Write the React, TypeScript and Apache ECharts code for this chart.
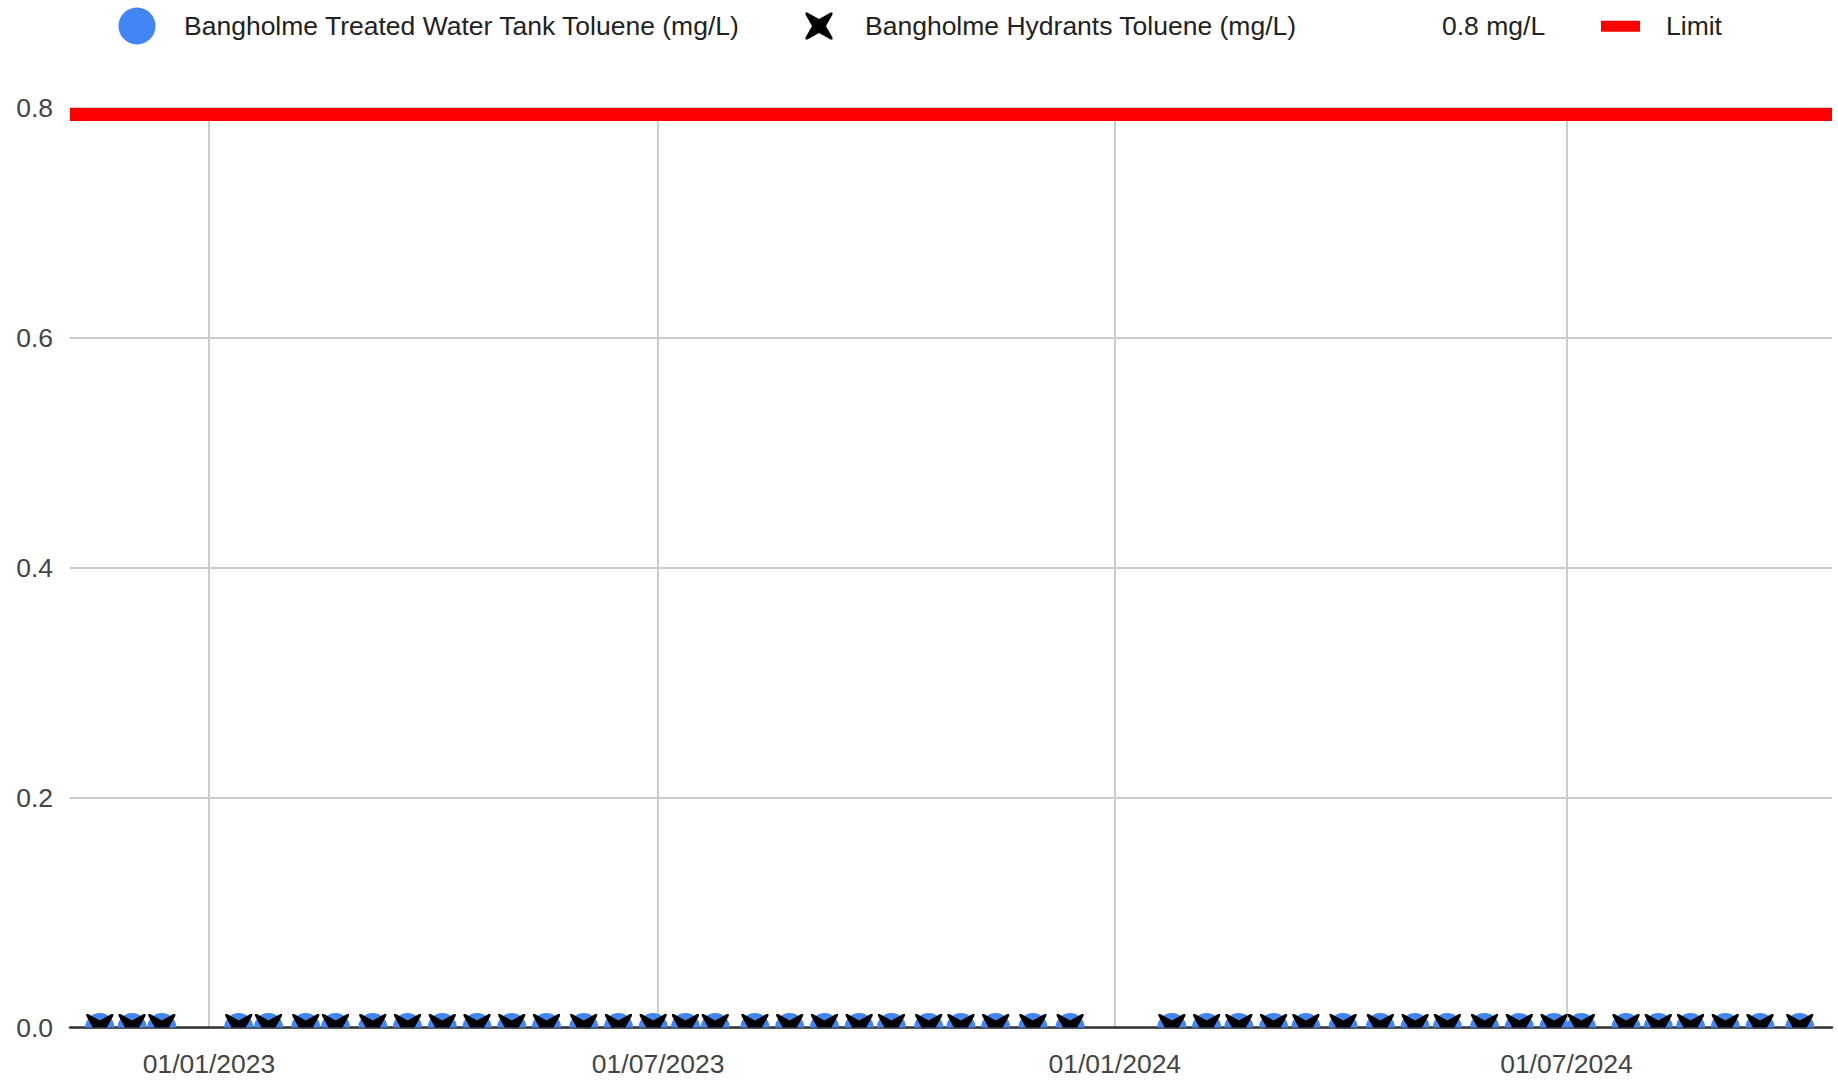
import React, { useEffect, useRef } from "react";
import * as echarts from "echarts";

// ---- Data ----
const sampleDates = [
  "2022-11-18", "2022-12-01", "2022-12-13",
  "2023-01-13", "2023-01-25", "2023-02-09", "2023-02-21", "2023-03-08", "2023-03-22",
  "2023-04-05", "2023-04-19", "2023-05-03", "2023-05-17", "2023-06-01", "2023-06-15",
  "2023-06-29", "2023-07-12", "2023-07-24", "2023-08-09", "2023-08-23", "2023-09-06",
  "2023-09-20", "2023-10-03", "2023-10-18", "2023-10-31", "2023-11-14", "2023-11-29",
  "2023-12-14",
  "2024-01-24", "2024-02-07", "2024-02-20", "2024-03-05", "2024-03-18", "2024-04-02",
  "2024-04-17", "2024-05-01", "2024-05-14", "2024-05-29", "2024-06-12", "2024-06-26",
  "2024-07-07", "2024-07-25", "2024-08-07", "2024-08-20", "2024-09-03", "2024-09-17",
  "2024-10-03",
];
const treatedValues = [
  0, 0, 0,
  0, 0, 0, 0, 0, 0,
  0, 0, 0, 0, 0, 0,
  0, 0, 0, 0, 0, 0,
  0, 0, 0, 0, 0, 0,
  0,
  0, 0, 0, 0, 0, 0,
  0, 0, 0, 0, 0, 0,
  0, 0, 0, 0, 0, 0,
  0,
];
const hydrantValues = [
  0, 0, 0,
  0, 0, 0, 0, 0, 0,
  0, 0, 0, 0, 0, 0,
  0, 0, 0, 0, 0, 0,
  0, 0, 0, 0, 0, 0,
  0,
  0, 0, 0, 0, 0, 0,
  0, 0, 0, 0, 0, 0,
  0, 0, 0, 0, 0, 0,
  0,
];
const limitValue = 0.8;
const axisStart = "2022-11-06";
const axisEnd = "2024-10-16";
const xTickDates = ["2023-01-01", "2023-07-01", "2024-01-01", "2024-07-01"];
const yMin = 0;
const yMax = 0.8;
const yStep = 0.2;

const nameTreated = "Bangholme Treated Water Tank Toluene (mg/L)";
const nameHydrants = "Bangholme Hydrants Toluene (mg/L)";
const nameLimitValue = "0.8 mg/L";
const nameLimit = "Limit";

// ---- helpers ----
function parseDay(s: string): number {
  const [y, m, d] = s.split("-").map(Number);
  return new Date(y, m - 1, d).getTime();
}
function pad(n: number): string {
  return n < 10 ? "0" + n : String(n);
}
function fmtDate(v: number): string {
  const d = new Date(v);
  return pad(d.getDate()) + "/" + pad(d.getMonth() + 1) + "/" + d.getFullYear();
}

const FONT = "'Liberation Sans', Arial, sans-serif";
const FONT_SIZE = 26.5;
const BLUE = "#4285F4";
const RED = "#FF0000";

const HALF_DISC = "path://M0,50A50,50,0,0,1,100,50Z";
const HALF_X = "path://M0,0L7,0L50,24L93,0L100,0L100,7L76,50L24,50L0,7Z";
const FULL_X =
  "path://M0,0L7,0L50,24L93,0L100,0L100,7L76,50L100,93L100,100L93,100L50,76L7,100L0,100L0,93L24,50L0,7Z";
const LIMIT_RECT = "path://M0,0H39V11H0Z";

export default function App() {
  const ref = useRef<HTMLDivElement>(null);

  useEffect(() => {
    if (!ref.current) return;
    const chart = echarts.init(ref.current, undefined, { renderer: "svg" });

    const startTs = parseDay(axisStart);
    const endTs = parseDay(axisEnd);
    const treatedData = sampleDates.map((d, i) => [parseDay(d), treatedValues[i]]);
    const hydrantData = sampleDates.map((d, i) => [parseDay(d), hydrantValues[i]]);
    const tickTs = xTickDates.map(parseDay);

    const legendText = { fontFamily: FONT, fontSize: FONT_SIZE, color: "#222222" };

    const option: any = {
      animation: false,
      backgroundColor: "#ffffff",
      textStyle: { fontFamily: FONT },
      grid: { left: 70, right: 6, top: 108, bottom: 59.5, containLabel: false },
      legend: [
        {
          left: 118.5, top: 7.5, padding: 0, itemWidth: 84, itemHeight: 37, selectedMode: false,
          textStyle: legendText,
          data: [{ name: nameTreated, icon: "circle", itemStyle: { color: BLUE } }],
        },
        {
          left: 805.5, top: 12.5, padding: 0, itemWidth: 82, itemHeight: 27, selectedMode: false,
          textStyle: legendText,
          data: [{ name: nameHydrants, icon: FULL_X, itemStyle: { color: "#000000" } }],
        },
        {
          left: 1412, top: 12.75, padding: 0, itemWidth: 25, itemHeight: 11, selectedMode: false,
          textStyle: legendText,
          data: [{ name: nameLimitValue, icon: "rect", itemStyle: { color: "rgba(0,0,0,0)", opacity: 0 } }],
        },
        {
          left: 1601, top: 12.75, padding: 0, itemWidth: 81, itemHeight: 11, selectedMode: false,
          textStyle: legendText,
          data: [{ name: nameLimit, icon: LIMIT_RECT, itemStyle: { color: RED } }],
        },
      ],
      xAxis: {
        type: "value",
        min: startTs,
        max: endTs,
        axisLine: { show: true, lineStyle: { color: "#333333", width: 2.5 } },
        axisTick: { show: false, customValues: tickTs },
        axisLabel: {
          customValues: tickTs,
          formatter: (v: number) => fmtDate(v),
          fontFamily: FONT,
          fontSize: FONT_SIZE,
          color: "#444444",
          margin: 23,
          hideOverlap: false,
        },
        splitLine: { show: true, lineStyle: { color: "#CCCCCC", width: 2 } },
      },
      yAxis: {
        type: "value",
        min: yMin,
        max: yMax,
        interval: yStep,
        axisLine: { show: false },
        axisTick: { show: false },
        axisLabel: {
          formatter: (v: number) => v.toFixed(1),
          fontFamily: FONT,
          fontSize: FONT_SIZE,
          color: "#444444",
          margin: 17,
        },
        splitLine: { show: true, lineStyle: { color: "#CCCCCC", width: 2 } },
      },
      series: [
        {
          name: nameTreated,
          type: "scatter",
          symbol: HALF_DISC,
          symbolSize: [29, 14.5],
          symbolOffset: [0, "-50%"],
          itemStyle: { color: BLUE, opacity: 1 },
          data: treatedData,
          z: 3,
          silent: true,
        },
        {
          name: nameHydrants,
          type: "scatter",
          symbol: HALF_X,
          symbolSize: [27, 13.5],
          symbolOffset: [0, "-50%"],
          itemStyle: { color: "#000000", opacity: 1 },
          data: hydrantData,
          z: 4,
          silent: true,
        },
        {
          name: nameLimitValue,
          type: "line",
          symbol: "none",
          lineStyle: { opacity: 0, width: 0 },
          itemStyle: { color: "rgba(0,0,0,0)" },
          data: [[startTs, limitValue], [endTs, limitValue]],
          silent: true,
        },
        {
          name: nameLimit,
          type: "custom",
          clip: true,
          silent: true,
          itemStyle: { color: RED },
          encode: { x: [0, 1], y: 2 },
          data: [[startTs, endTs, limitValue]],
          renderItem: (params: any, api: any) => {
            const a = api.coord([api.value(0), api.value(2)]);
            const b = api.coord([api.value(1), api.value(2)]);
            return {
              type: "line",
              shape: { x1: a[0], y1: a[1], x2: b[0], y2: b[1] },
              style: { stroke: RED, lineWidth: 26, fill: null },
            };
          },
          z: 5,
        },
      ],
    };

    chart.setOption(option);
    return () => {
      chart.dispose();
    };
  }, []);

  return (
    <div
      ref={ref}
      style={{ position: "fixed", left: 0, top: 0, width: 1838, height: 1087, background: "#fff" }}
    />
  );
}
